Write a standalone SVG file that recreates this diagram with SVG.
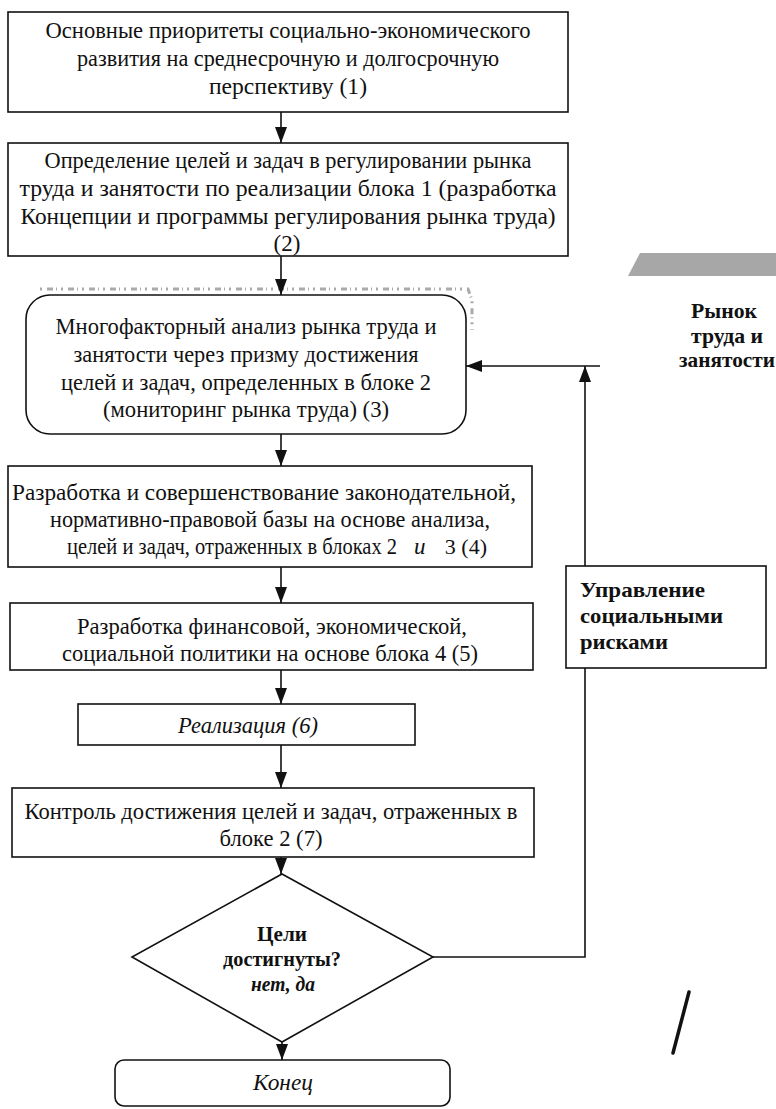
<svg xmlns="http://www.w3.org/2000/svg" width="776" height="1109" viewBox="0 0 776 1109" font-family="'Liberation Serif', 'Times New Roman', serif">
<style>
.box{fill:#fff;stroke:#111;stroke-width:1.6}
.t{font-size:23px;fill:#111;text-anchor:middle}
.s{font-size:23px;fill:#111;text-anchor:start}
.e{font-size:22px;fill:#111;text-anchor:end}
.d{font-size:20px;font-weight:bold;fill:#111;text-anchor:middle}
.it{font-style:italic}
.bl{font-size:21px;font-weight:bold;fill:#111}
.ln{fill:none;stroke:#111;stroke-width:1.6}
.nz{fill:none;stroke:#aaa;stroke-width:3;stroke-dasharray:2 5 6 3 1 4}
</style>
<defs>
<marker id="ah" viewBox="0 0 16 12" refX="16" refY="6" markerWidth="16" markerHeight="12" markerUnits="userSpaceOnUse" orient="auto">
<path d="M0,0 L16,6 L0,12 z" fill="#111"/>
</marker>
</defs>
<rect x="0" y="0" width="776" height="1109" fill="#fff"/>
<polygon points="640,253 776,253 776,276 628,276" fill="#8a8a8a" opacity="0.75"/>
<path class="nz" d="M40,289 L468,289 L472,300 L472,330"/>

<g id="n1">
<rect class="box" x="8" y="12" width="560" height="100"/>
<text class="t" x="288" y="38" textLength="485" lengthAdjust="spacingAndGlyphs">Основные приоритеты  социально-экономического</text>
<text class="t" x="288" y="66" textLength="422" lengthAdjust="spacingAndGlyphs">развития на среднесрочную и долгосрочную</text>
<text class="t" x="288" y="94" textLength="158" lengthAdjust="spacingAndGlyphs">перспективу  (1)</text>
</g>
<g id="n2">
<rect class="box" x="8" y="143" width="560" height="113"/>
<text class="t" x="288" y="168" textLength="487" lengthAdjust="spacingAndGlyphs">Определение целей и задач в регулировании рынка</text>
<text class="t" x="288" y="196" textLength="537" lengthAdjust="spacingAndGlyphs">труда и занятости по реализации блока 1 (разработка</text>
<text class="t" x="288" y="224" textLength="535" lengthAdjust="spacingAndGlyphs">Концепции и программы регулирования рынка труда)</text>
<text class="t" x="287" y="251">(2)</text>
</g>
<g id="n3">
<rect class="box" x="26" y="295" width="440" height="139" rx="24" ry="24"/>
<text class="t" x="246" y="334" textLength="381" lengthAdjust="spacingAndGlyphs">Многофакторный анализ рынка труда и</text>
<text class="t" x="246" y="362" textLength="345" lengthAdjust="spacingAndGlyphs">занятости через призму достижения</text>
<text class="t" x="246" y="390" textLength="370" lengthAdjust="spacingAndGlyphs">целей и задач, определенных в блоке 2</text>
<text class="t" x="246" y="417" textLength="286" lengthAdjust="spacingAndGlyphs">(мониторинг рынка труда) (3)</text>
</g>
<g id="n4">
<rect class="box" x="8" y="466" width="524" height="101"/>
<text class="t" x="264" y="500" textLength="504" lengthAdjust="spacingAndGlyphs">Разработка и совершенствование законодательной,</text>
<text class="t" x="270" y="527" textLength="440" lengthAdjust="spacingAndGlyphs">нормативно-правовой базы на основе анализа,</text>
<text class="s" x="67" y="554" textLength="330" lengthAdjust="spacingAndGlyphs">целей и задач, отраженных в блоках 2</text>
<text class="s it" x="414" y="554">и</text>
<text class="e" x="487" y="554">3  (4)</text>
</g>
<g id="n5">
<rect class="box" x="10" y="603" width="523" height="67"/>
<text class="t" x="272" y="634" textLength="390" lengthAdjust="spacingAndGlyphs">Разработка финансовой, экономической,</text>
<text class="t" x="270" y="661" textLength="416" lengthAdjust="spacingAndGlyphs">социальной политики на основе блока 4 (5)</text>
</g>
<g id="n6">
<rect class="box" x="78" y="704" width="337" height="41"/>
<text class="t it" x="248" y="733" textLength="140" lengthAdjust="spacingAndGlyphs">Реализация (6)</text>
</g>
<g id="n7">
<rect class="box" x="12" y="788" width="522" height="69"/>
<text class="t" x="271" y="819" textLength="493" lengthAdjust="spacingAndGlyphs">Контроль достижения целей и задач, отраженных в</text>
<text class="t" x="271" y="846" textLength="103" lengthAdjust="spacingAndGlyphs">блоке 2 (7)</text>
</g>
<g id="n8">
<polygon class="box" points="282,874 433,957 282,1042 132,957"/>
<text class="d" x="282" y="941" textLength="50" lengthAdjust="spacingAndGlyphs">Цели</text>
<text class="d" x="282" y="966" textLength="118" lengthAdjust="spacingAndGlyphs">достигнуты?</text>
<text class="d it" x="283" y="991" textLength="64" lengthAdjust="spacingAndGlyphs">нет, да</text>
</g>
<g id="n9">
<rect class="box" x="115" y="1060" width="335" height="46" rx="9" ry="9"/>
<text class="t it" x="283" y="1090" textLength="60" lengthAdjust="spacingAndGlyphs">Конец</text>
</g>
<g id="n10">
<text class="bl" x="724" y="318" text-anchor="middle" textLength="66" lengthAdjust="spacingAndGlyphs">Рынок</text>
<text class="bl" x="727" y="343" text-anchor="middle" textLength="72" lengthAdjust="spacingAndGlyphs">труда и</text>
<text class="bl" x="727" y="367" text-anchor="middle" textLength="96" lengthAdjust="spacingAndGlyphs">занятости</text>
</g>
<g id="n11">
<rect class="box" x="566" y="566" width="200" height="102"/>
<text class="bl" x="580" y="597" textLength="125" lengthAdjust="spacingAndGlyphs">Управление</text>
<text class="bl" x="580" y="623" textLength="143" lengthAdjust="spacingAndGlyphs">социальными</text>
<text class="bl" x="580" y="649" textLength="88" lengthAdjust="spacingAndGlyphs">рисками</text>
</g>

<g id="connectors">
<line class="ln" x1="281" y1="112" x2="281" y2="143" marker-end="url(#ah)"/>
<line class="ln" x1="281" y1="256" x2="281" y2="295" marker-end="url(#ah)"/>
<line class="ln" x1="281" y1="434" x2="281" y2="466" marker-end="url(#ah)"/>
<line class="ln" x1="281" y1="567" x2="281" y2="603" marker-end="url(#ah)"/>
<line class="ln" x1="281" y1="670" x2="281" y2="704" marker-end="url(#ah)"/>
<line class="ln" x1="281" y1="745" x2="281" y2="788" marker-end="url(#ah)"/>
<line class="ln" x1="281" y1="857" x2="281" y2="874" marker-end="url(#ah)"/>
<line class="ln" x1="282" y1="1042" x2="282" y2="1060" marker-end="url(#ah)"/>
<polyline class="ln" points="433,957 585,957 585,668"/>
<line class="ln" x1="585" y1="566" x2="585" y2="366" marker-end="url(#ah)"/>
<line class="ln" x1="600" y1="366" x2="466" y2="366" marker-end="url(#ah)"/>
</g>
<path d="M689,992 L673,1053" stroke="#111" stroke-width="3.5" stroke-linecap="round" fill="none"/>
</svg>
